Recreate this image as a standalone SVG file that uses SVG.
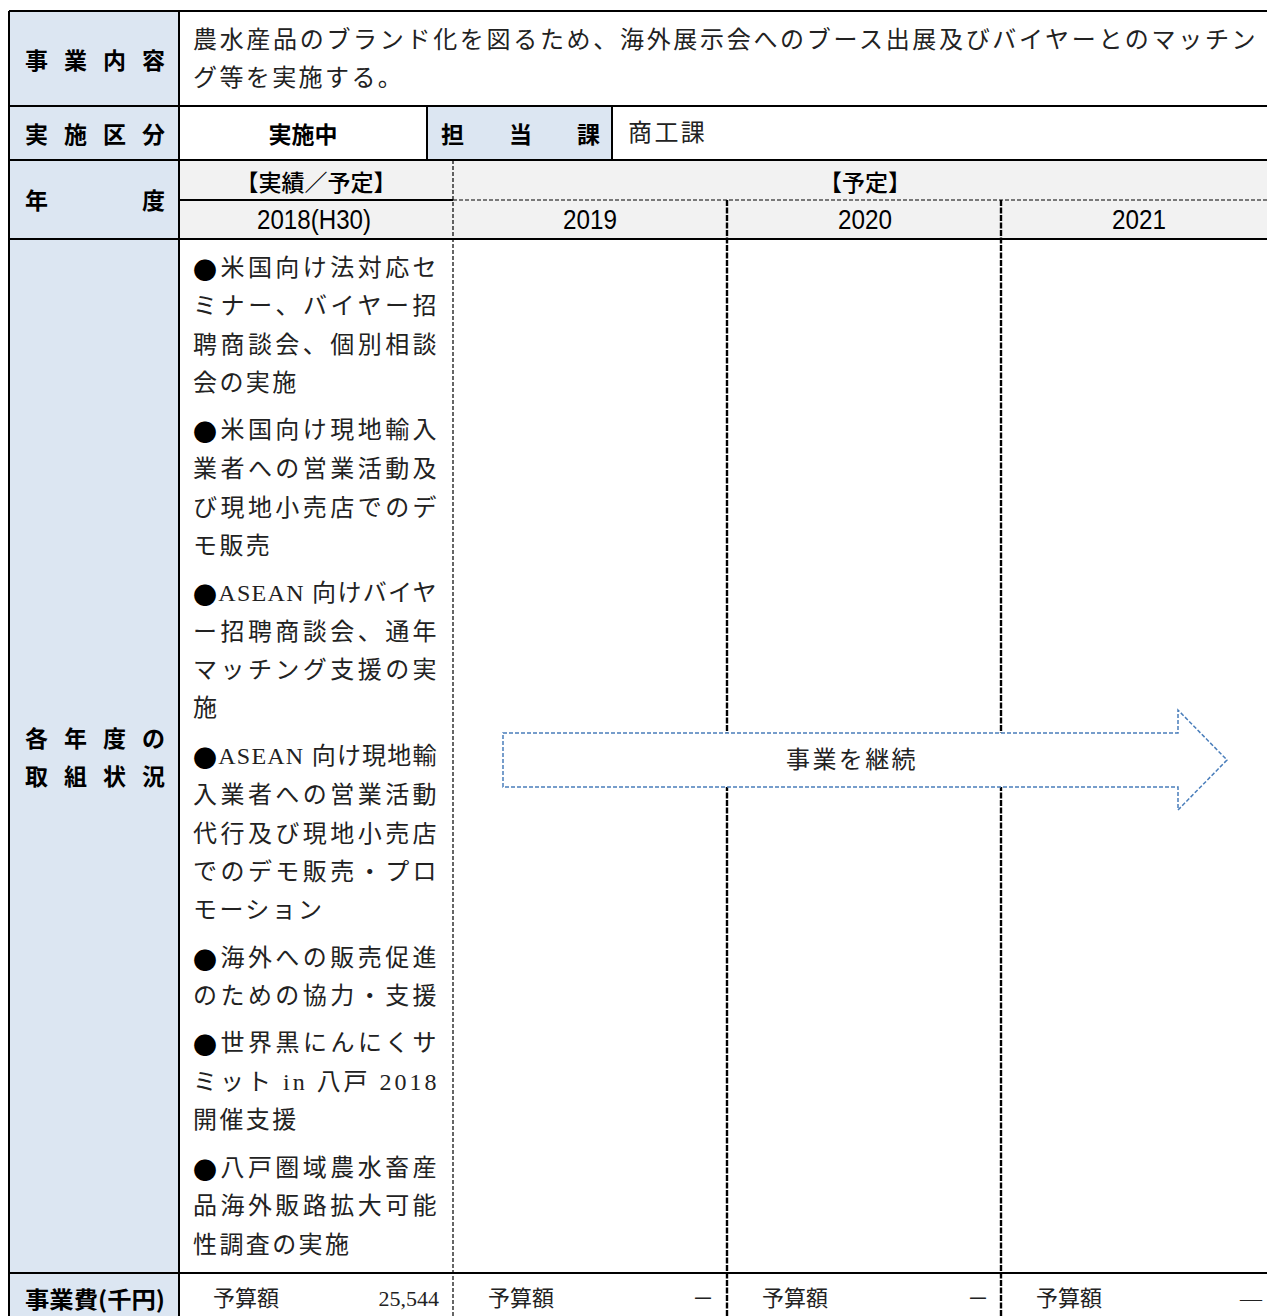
<svg xmlns="http://www.w3.org/2000/svg" width="1267" height="1316" viewBox="0 0 1267 1316">
<style>
.lbl{font-family:"Noto Sans CJK JP","Noto Sans",sans-serif;font-weight:700;font-size:23px;fill:#000;dominant-baseline:central}
.hd{font-family:"Noto Sans CJK JP",sans-serif;font-weight:500;font-size:23px;fill:#000;dominant-baseline:central}
.num{font-family:"Liberation Sans",Arial,sans-serif;font-size:27px;fill:#000;dominant-baseline:central}
.tx{font-family:"Liberation Serif","Noto Sans CJK JP",serif;font-size:24px;letter-spacing:2.4px;fill:#222;dominant-baseline:central}
.sm{font-family:"Liberation Serif","Noto Sans CJK JP",serif;font-size:22px;fill:#222;dominant-baseline:central}
.b{font-family:"Noto Sans CJK JP",sans-serif;fill:#000}
.solid{stroke:#000;stroke-width:2;fill:none}
.thin{stroke:#000;stroke-width:1.2;stroke-dasharray:4 2;fill:none}
.heavy{stroke:#000;stroke-width:2.4;stroke-dasharray:6 1.5;fill:none}
</style>
<rect width="1267" height="1316" fill="#fff"/>
<g id="backgrounds">
<rect x="9" y="11" width="170" height="1305" fill="#dce6f2"/>
<rect x="427" y="106" width="185" height="54" fill="#dce6f2"/>
<rect x="179" y="160" width="1088" height="79" fill="#f2f2f2"/>
</g>
<g id="grid">
<line class="solid" x1="9" y1="11" x2="1267" y2="11"/>
<line class="solid" x1="9" y1="106" x2="1267" y2="106"/>
<line class="solid" x1="9" y1="160" x2="1267" y2="160"/>
<line class="solid" x1="179" y1="200" x2="453" y2="200"/>
<line class="thin" x1="453" y1="200" x2="1267" y2="200"/>
<line class="solid" x1="9" y1="239" x2="1267" y2="239"/>
<line class="solid" x1="9" y1="1273" x2="1267" y2="1273"/>
<line class="solid" x1="9" y1="11" x2="9" y2="1316"/>
<line class="solid" x1="179" y1="11" x2="179" y2="1316"/>
<line class="solid" x1="427" y1="106" x2="427" y2="160"/>
<line class="solid" x1="612" y1="106" x2="612" y2="160"/>
<line class="thin" x1="453" y1="160" x2="453" y2="1316"/>
<line class="heavy" x1="727" y1="200" x2="727" y2="1316"/>
<line class="heavy" x1="1001" y1="200" x2="1001" y2="1316"/>
</g>
<g id="labels">
<text class="lbl" x="25" y="59" textLength="140" lengthAdjust="spacing">事業内容</text>
<text class="lbl" x="25" y="133" textLength="140" lengthAdjust="spacing">実施区分</text>
<text class="lbl" x="25" y="199" textLength="140" lengthAdjust="spacing">年度</text>
<text class="lbl" x="25" y="737" textLength="140" lengthAdjust="spacing">各年度の</text>
<text class="lbl" x="25" y="775" textLength="140" lengthAdjust="spacing">取組状況</text>
<text class="lbl" x="25" y="1298" textLength="140" lengthAdjust="spacingAndGlyphs">事業費(千円)</text>
</g>
<g id="content">
<text class="tx" x="193" y="40" textLength="1065" lengthAdjust="spacing">農水産品のブランド化を図るため、海外展示会へのブース出展及びバイヤーとのマッチン</text>
<text class="tx" x="193" y="78">グ等を実施する。</text>
</g>
<g id="status">
<text class="lbl" x="303" y="133" text-anchor="middle">実施中</text>
<text class="lbl" x="441" y="133" textLength="159" lengthAdjust="spacing">担当課</text>
<text class="tx" x="628" y="133">商工課</text>
</g>
<g id="years">
<text class="hd" x="316" y="181" text-anchor="middle">【実績／予定】</text>
<text class="hd" x="865" y="181" text-anchor="middle">【予定】</text>
<text class="num" x="257" y="220" textLength="114" lengthAdjust="spacingAndGlyphs">2018(H30)</text>
<text class="num" x="563" y="220" textLength="54" lengthAdjust="spacingAndGlyphs">2019</text>
<text class="num" x="838" y="220" textLength="54" lengthAdjust="spacingAndGlyphs">2020</text>
<text class="num" x="1112" y="220" textLength="54" lengthAdjust="spacingAndGlyphs">2021</text>
</g>
<g id="activities">
<text class="tx" x="193" y="268" textLength="246" lengthAdjust="spacing"><tspan class="b">●</tspan>米国向け法対応セ</text>
<text class="tx" x="193" y="306" textLength="246" lengthAdjust="spacing">ミナー、バイヤー招</text>
<text class="tx" x="193" y="345" textLength="246" lengthAdjust="spacing">聘商談会、個別相談</text>
<text class="tx" x="193" y="383">会の実施</text>
<text class="tx" x="193" y="430" textLength="246" lengthAdjust="spacing"><tspan class="b">●</tspan>米国向け現地輸入</text>
<text class="tx" x="193" y="469" textLength="246" lengthAdjust="spacing">業者への営業活動及</text>
<text class="tx" x="193" y="508" textLength="246" lengthAdjust="spacing">び現地小売店でのデ</text>
<text class="tx" x="193" y="546">モ販売</text>
<text class="tx" x="193" y="593" textLength="246" lengthAdjust="spacing"><tspan class="b">●</tspan>ASEAN 向けバイヤ</text>
<text class="tx" x="193" y="632" textLength="246" lengthAdjust="spacing">ー招聘商談会、通年</text>
<text class="tx" x="193" y="670" textLength="246" lengthAdjust="spacing">マッチング支援の実</text>
<text class="tx" x="193" y="708">施</text>
<text class="tx" x="193" y="756" textLength="246" lengthAdjust="spacing"><tspan class="b">●</tspan>ASEAN 向け現地輸</text>
<text class="tx" x="193" y="795" textLength="246" lengthAdjust="spacing">入業者への営業活動</text>
<text class="tx" x="193" y="834" textLength="246" lengthAdjust="spacing">代行及び現地小売店</text>
<text class="tx" x="193" y="872" textLength="246" lengthAdjust="spacing">でのデモ販売・プロ</text>
<text class="tx" x="193" y="910">モーション</text>
<text class="tx" x="193" y="958" textLength="246" lengthAdjust="spacing"><tspan class="b">●</tspan>海外への販売促進</text>
<text class="tx" x="193" y="996" textLength="246" lengthAdjust="spacing">のための協力・支援</text>
<text class="tx" x="193" y="1043" textLength="246" lengthAdjust="spacing"><tspan class="b">●</tspan>世界黒にんにくサ</text>
<text class="tx" x="193" y="1082" textLength="246" lengthAdjust="spacing">ミット in 八戸 2018</text>
<text class="tx" x="193" y="1120">開催支援</text>
<text class="tx" x="193" y="1168" textLength="246" lengthAdjust="spacing"><tspan class="b">●</tspan>八戸圏域農水畜産</text>
<text class="tx" x="193" y="1206" textLength="246" lengthAdjust="spacing">品海外販路拡大可能</text>
<text class="tx" x="193" y="1245">性調査の実施</text>
</g>
<g id="arrow">
<path d="M503,733 H1178 V710 L1227,760 L1178,810 V787 H503 Z" fill="#fff" stroke="#4a7ebb" stroke-width="1.5" stroke-dasharray="4 2"/>
<text class="tx" x="852" y="760" text-anchor="middle" letter-spacing="0">事業を継続</text>
</g>
<g id="budget">
<text class="sm" x="213" y="1298">予算額</text>
<text class="sm" x="439" y="1298" text-anchor="end">25,544</text>
<text class="sm" x="488" y="1298">予算額</text>
<text class="sm" x="714" y="1298" text-anchor="end">－</text>
<text class="sm" x="762" y="1298">予算額</text>
<text class="sm" x="989" y="1298" text-anchor="end">－</text>
<text class="sm" x="1036" y="1298">予算額</text>
<text class="sm" x="1262" y="1298" text-anchor="end">—</text>
</g>
</svg>
